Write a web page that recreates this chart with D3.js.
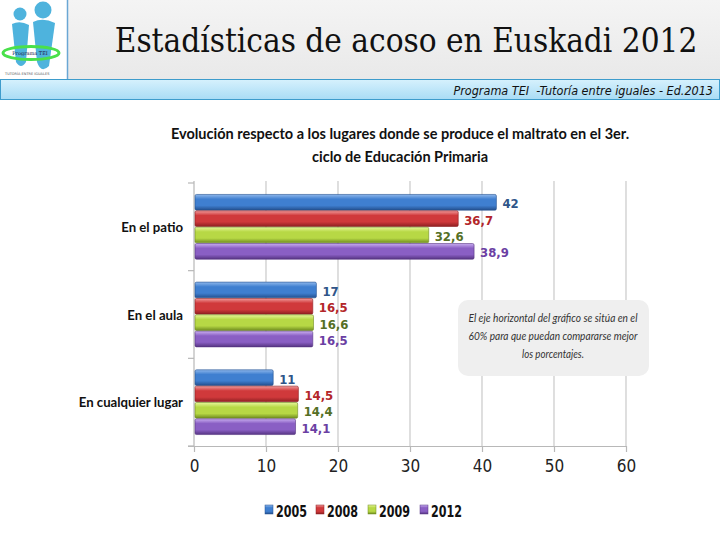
<!DOCTYPE html>
<html>
<head>
<meta charset="utf-8">
<script src="https://cdn.jsdelivr.net/npm/d3@7"></script>
<style>
  body { margin: 0; background: #fff; }
  svg { display: block; }
</style>
</head>
<body>
<svg id="chart" width="720" height="540"></svg>
<script>
// data
const categories = ["En el patio", "En el aula", "En cualquier lugar"];
const years = ["2005", "2008", "2009", "2012"];
const values2005 = [42, 17, 11];
const values2008 = [36.7, 16.5, 14.5];
const values2009 = [32.6, 16.6, 14.4];
const values2012 = [38.9, 16.5, 14.1];
const xTicks = [0, 10, 20, 30, 40, 50, 60];

const series = [values2005, values2008, values2009, values2012];
const colors = {
  "2005": { top: "#8fb8ec", mid: "#3f7fd0", bot: "#24508f", label: "#2f5589" },
  "2008": { top: "#f19a9a", mid: "#d0393b", bot: "#8e1f22", label: "#b3262a" },
  "2009": { top: "#e6f79a", mid: "#b7d845", bot: "#6f8c1f", label: "#556f25" },
  "2012": { top: "#c9aef0", mid: "#8a5fc4", bot: "#563482", label: "#6b3fa3" }
};

const svg = d3.select("#chart");
const defs = svg.append("defs");

// ---------- header ----------
let hdr = defs.append("linearGradient").attr("id", "hdrBg").attr("x1", 0).attr("y1", 0).attr("x2", 0).attr("y2", 1);
hdr.append("stop").attr("offset", "0%").attr("stop-color", "#f4f4f4");
hdr.append("stop").attr("offset", "100%").attr("stop-color", "#e9e9e9");
svg.append("rect").attr("x", 68).attr("y", 0).attr("width", 652).attr("height", 79).attr("fill", "url(#hdrBg)");

let band = defs.append("linearGradient").attr("id", "bandBg").attr("x1", 0).attr("y1", 0).attr("x2", 0).attr("y2", 1);
band.append("stop").attr("offset", "0%").attr("stop-color", "#d6f1fd");
band.append("stop").attr("offset", "100%").attr("stop-color", "#a9dcf5");
svg.append("rect").attr("x", 0.5).attr("y", 79.5).attr("width", 719).attr("height", 20)
  .attr("fill", "url(#bandBg)").attr("stroke", "#3e9ccc").attr("stroke-width", 1);

// logo
let logo = svg.append("g");
logo.append("rect").attr("x", 0).attr("y", 0).attr("width", 67).attr("height", 79).attr("fill", "#fff");
logo.append("line").attr("x1", 67.5).attr("x2", 67.5).attr("y1", 0).attr("y2", 79).attr("stroke", "#6aa7d4").attr("stroke-width", 1.5);
logo.append("circle").attr("cx", 20).attr("cy", 14).attr("r", 6.5).attr("fill", "#4eb3dd");
logo.append("circle").attr("cx", 43).attr("cy", 10).attr("r", 8.5).attr("fill", "#4eb3dd");
logo.append("path").attr("d", "M12,24 Q20,20 29,25 L26,62 Q21,70 16,62 Z").attr("fill", "#4eb3dd");
logo.append("path").attr("d", "M33,22 Q43,17 55,23 L49,66 Q41,74 37,62 Z").attr("fill", "#4eb3dd");
logo.append("ellipse").attr("cx", 31).attr("cy", 53).attr("rx", 28).attr("ry", 6.5)
  .attr("fill", "none").attr("stroke", "#49e04a").attr("stroke-width", 3);
logo.append("text").attr("x", 30).attr("y", 55).attr("text-anchor", "middle")
  .attr("font-family", "DejaVu Serif").attr("font-size", 5).attr("fill", "#224").text("Programa TEI");
logo.append("text").attr("x", 5).attr("y", 75)
  .attr("font-family", "DejaVu Sans").attr("font-size", 3.5).attr("fill", "#555").text("TUTORÍA ENTRE IGUALES");

svg.append("text").attr("x", 406).attr("y", 52).attr("text-anchor", "middle")
  .attr("font-family", "'DejaVu Serif Condensed', 'Liberation Serif', serif").attr("font-size", 33)
  .attr("fill", "#111").text("Estadísticas de acoso en Euskadi 2012");

svg.append("text").attr("x", 713).attr("y", 95).attr("text-anchor", "end")
  .attr("font-family", "'DejaVu Sans Condensed', sans-serif").attr("font-style", "italic").attr("font-size", 12.5)
  .attr("fill", "#111").style("white-space", "pre")
  .text("Programa TEI  -Tutoría entre iguales - Ed.2013");

// ---------- chart title ----------
const titleFont = "Lato, 'Open Sans', sans-serif";
svg.append("text").attr("x", 400).attr("y", 139).attr("text-anchor", "middle")
  .attr("font-family", titleFont).attr("font-weight", 700).attr("font-size", 14.5).attr("fill", "#111")
  .text("Evolución respecto a los lugares donde se produce el maltrato en el 3er.");
svg.append("text").attr("x", 400).attr("y", 162).attr("text-anchor", "middle")
  .attr("font-family", titleFont).attr("font-weight", 700).attr("font-size", 14.5).attr("fill", "#111")
  .text("ciclo de Educación Primaria");

// ---------- scales ----------
const x = d3.scaleLinear().domain([0, 60]).range([194, 626]);
const y = d3.scaleBand().domain(categories).range([183, 446]);
const yInner = d3.scaleBand().domain(years).range([0, y.bandwidth()]).paddingInner(0.04).paddingOuter(0.7);

// gridlines
svg.append("g").selectAll("line").data(xTicks.slice(1)).join("line")
  .attr("x1", d => x(d)).attr("x2", d => x(d))
  .attr("y1", 181).attr("y2", 446)
  .attr("stroke", "#c9c9c9").attr("stroke-width", 1.2);

// left axis line + category ticks
const axisCol = "#b8b8b8";
svg.append("line").attr("x1", x(0)).attr("x2", x(0)).attr("y1", 181).attr("y2", 446)
  .attr("stroke", axisCol).attr("stroke-width", 1.2);
svg.append("g").selectAll("line").data(categories.map(c => y(c)).concat([446])).join("line")
  .attr("x1", 188).attr("x2", x(0)).attr("y1", d => d).attr("y2", d => d)
  .attr("stroke", axisCol).attr("stroke-width", 1.2);

// bottom axis
const xAxis = svg.append("g").attr("transform", "translate(0,446)")
  .call(d3.axisBottom(x).tickValues(xTicks).tickSize(6).tickSizeOuter(0).tickPadding(8));
xAxis.select(".domain").attr("stroke", axisCol).attr("stroke-width", 1.2).attr("d", "M188,0.5H626");
xAxis.selectAll(".tick line").attr("stroke", axisCol).attr("stroke-width", 1.2);
xAxis.selectAll(".tick text")
  .attr("font-family", "'DejaVu Sans Condensed', sans-serif")
  .attr("font-size", 17).attr("fill", "#222");

// gradients for bars
years.forEach(yr => {
  let g = defs.append("linearGradient").attr("id", "bar" + yr).attr("x1", 0).attr("y1", 0).attr("x2", 0).attr("y2", 1);
  g.append("stop").attr("offset", "0%").attr("stop-color", colors[yr].top);
  g.append("stop").attr("offset", "30%").attr("stop-color", colors[yr].mid);
  g.append("stop").attr("offset", "70%").attr("stop-color", colors[yr].mid);
  g.append("stop").attr("offset", "100%").attr("stop-color", colors[yr].bot);
});

// category labels
svg.append("g").selectAll("text").data(categories).join("text")
  .attr("x", 183).attr("y", d => y(d) + y.bandwidth() / 2 + 5)
  .attr("text-anchor", "end")
  .attr("font-family", titleFont).attr("font-weight", 700).attr("font-size", 13.2).attr("fill", "#111")
  .text(d => d);

// bars
const fmt = v => String(v).replace(".", ",");
const groups = svg.append("g").selectAll("g.cat").data(categories).join("g")
  .attr("class", "cat")
  .attr("transform", d => `translate(0,${y(d)})`);

groups.each(function (cat, ci) {
  const g = d3.select(this);
  const rows = years.map((yr, si) => ({ yr: yr, v: series[si][ci] }));
  g.selectAll("rect").data(rows).join("rect")
    .attr("x", x(0) + 1)
    .attr("y", d => yInner(d.yr))
    .attr("width", d => x(d.v) - x(0) - 1)
    .attr("height", yInner.bandwidth())
    .attr("rx", 1.5)
    .attr("fill", d => `url(#bar${d.yr})`)
    .attr("stroke", d => colors[d.yr].bot).attr("stroke-width", 0.6);
  g.selectAll("text").data(rows).join("text")
    .attr("x", d => x(d.v) + 6)
    .attr("y", d => yInner(d.yr) + yInner.bandwidth() / 2 + 6)
    .attr("font-family", "'DejaVu Sans Condensed', sans-serif")
    .attr("font-weight", 700).attr("font-size", 13)
    .attr("fill", d => colors[d.yr].label)
    .text(d => fmt(d.v));
});

// note box
svg.append("rect").attr("x", 458).attr("y", 300).attr("width", 191).attr("height", 76).attr("rx", 10)
  .attr("fill", "#efefef");
const noteLines = ["El eje horizontal del gráfico se sitúa en el", "60% para que puedan compararse mejor", "los porcentajes."];
const noteWidths = [169, 169, 62];
svg.append("g").selectAll("text").data(noteLines).join("text")
  .attr("x", 553).attr("y", (d, i) => 322 + i * 18).attr("text-anchor", "middle")
  .attr("font-family", titleFont).attr("font-style", "italic")
  .attr("font-size", 12).attr("fill", "#333")
  .attr("textLength", (d, i) => noteWidths[i]).attr("lengthAdjust", "spacingAndGlyphs")
  .text(d => d);

// legend
const legendX = [265, 316, 368, 420];
const legend = svg.append("g").selectAll("g").data(years).join("g")
  .attr("transform", (d, i) => `translate(${legendX[i]},510)`);
legend.append("rect").attr("x", 0).attr("y", -5).attr("width", 8).attr("height", 9)
  .attr("fill", d => `url(#bar${d})`).attr("stroke", d => colors[d].bot).attr("stroke-width", 0.5);
legend.append("text").attr("x", 11).attr("y", 6.5)
  .attr("font-family", "'DejaVu Sans Condensed', sans-serif").attr("font-weight", 700).attr("font-size", 16).attr("fill", "#111")
  .attr("textLength", 31).attr("lengthAdjust", "spacingAndGlyphs")
  .text(d => d);
</script>
</body>
</html>
